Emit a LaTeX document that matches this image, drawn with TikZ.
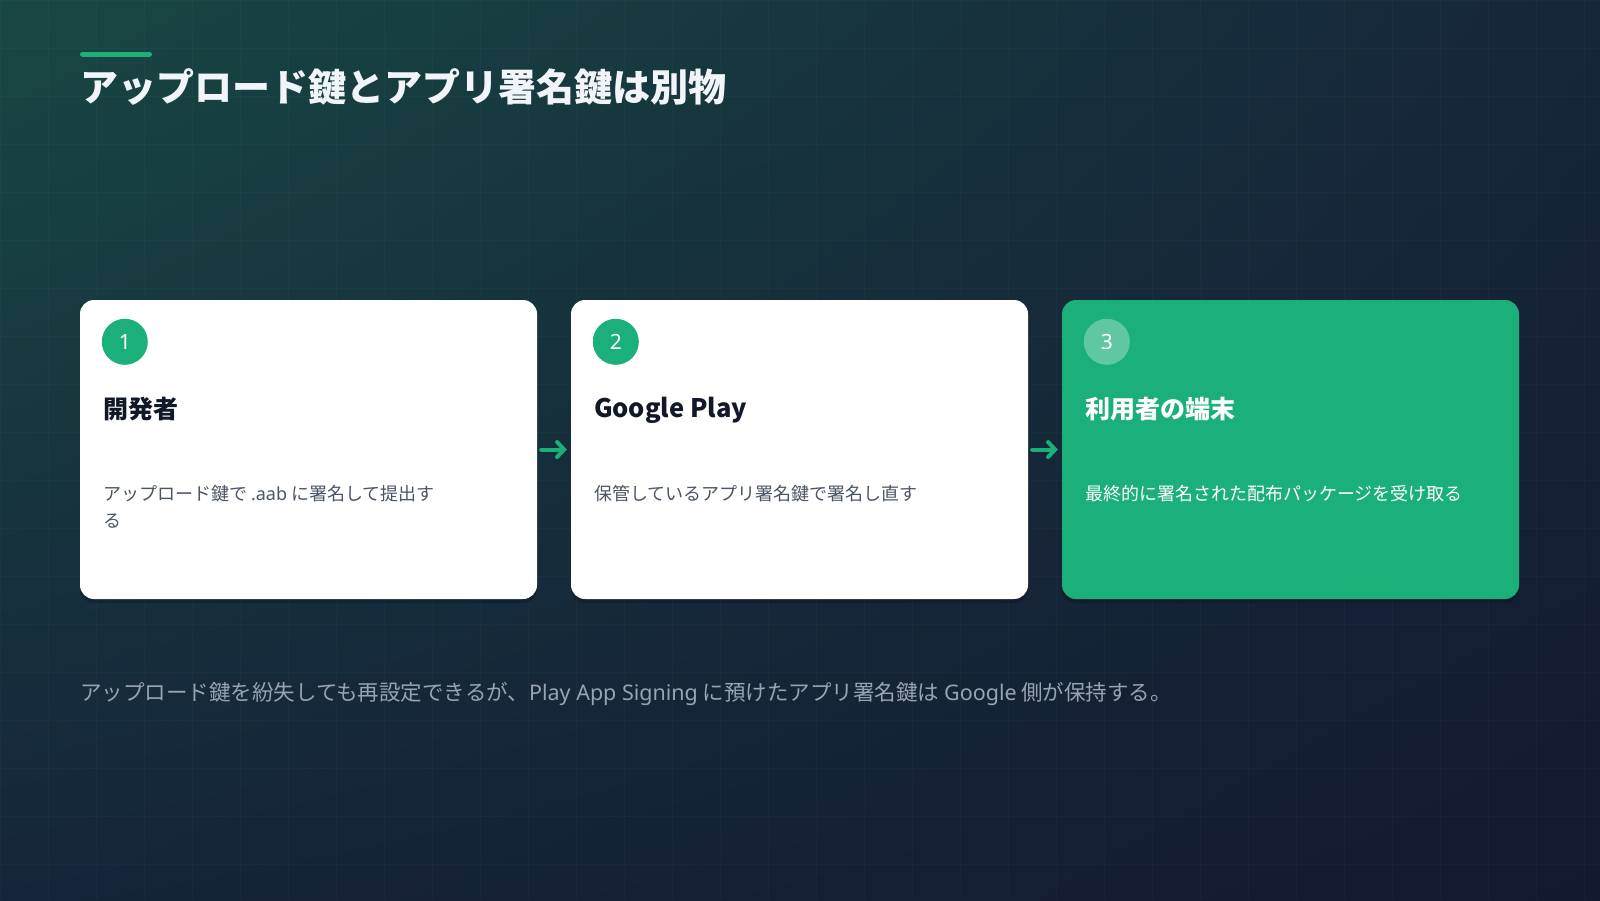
\documentclass[tikz,border=0pt]{standalone}
\usepackage{fontspec}
\setmainfont{Noto Sans CJK JP}
\newfontfamily\lat{Noto Sans}
\usetikzlibrary{arrows.meta,shadows,shadings}

\definecolor{bg_tl}{HTML}{184843}
\definecolor{bg_tr}{HTML}{16253A}
\definecolor{bg_bl}{HTML}{15243A}
\definecolor{bg_br}{HTML}{131A30}
\definecolor{accent}{HTML}{1BB07A}
\definecolor{ink}{HTML}{111827}
\definecolor{muted}{HTML}{4B5563}
\definecolor{note}{HTML}{98A3B3}
\definecolor{headline}{HTML}{F1F5F9}

\begin{document}
\begin{tikzpicture}[x=1pt, y=-1pt,
    card_style/.style={rectangle, rounded corners=14pt, minimum width=457pt, minimum height=299pt, inner sep=0pt,
        fill=white, drop shadow={shadow xshift=0pt, shadow yshift=-4pt, opacity=0.18, fill=black}},
    last_card_style/.style={card_style, fill=accent},
    badge_style/.style={circle, fill=accent, minimum size=46pt, inner sep=0pt, text=white, font=\lat\fontsize{21}{24}\selectfont},
    last_badge_style/.style={badge_style, fill=white, fill opacity=0.3, text opacity=1},
    title_style/.style={anchor=west, inner sep=0pt, text=ink, font=\fontsize{25}{30}\selectfont\bfseries},
    desc_style/.style={anchor=north west, inner sep=0pt, align=left, text=muted, font=\fontsize{18}{27}\selectfont},
    arrow_style/.style={draw=accent, line width=4pt, line cap=round, -{Straight Barb[length=7pt, width=15pt, line cap=round]},
        shorten <=4pt, shorten >=4pt},
    grid_style/.style={draw=white, opacity=0.025, line width=0.8pt}]

    \useasboundingbox (0,0) rectangle (1600,900);
    \shade[upper left=bg_tl, upper right=bg_tr, lower left=bg_bl, lower right=bg_br] (0,0) rectangle (1600,900);
    \foreach \gx in {0,48,...,1600} \draw[grid_style] (\gx,0) -- (\gx,900);
    \foreach \gy in {0,48,...,900} \draw[grid_style] (0,\gy) -- (1600,\gy);

    % heading
    \draw[accent, line width=5pt, line cap=round] (82.5,54) -- (149.5,54);
    \node[anchor=west, inner sep=0pt, text=headline, font=\fontsize{38}{44}\selectfont\bfseries] (heading) at (80,87)
        {アップロード鍵とアプリ署名鍵は別物};

    % cards
    \node[card_style] (c1) at (308.5,449.5) {};
    \node[card_style] (c2) at (799.5,449.5) {};
    \node[last_card_style] (c3) at (1290.5,449.5) {};

    \node[badge_style] (b1) at ([xshift=45pt, yshift=-42pt]c1.north west) {1};
    \node[badge_style] (b2) at ([xshift=45pt, yshift=-42pt]c2.north west) {2};
    \node[last_badge_style] (b3) at ([xshift=45pt, yshift=-42pt]c3.north west) {3};

    \node[title_style] (t1) at ([xshift=23pt, yshift=-109pt]c1.north west) {開発者};
    \node[title_style, font=\fontsize{25.5}{30}\selectfont\bfseries] (t2) at ([xshift=23pt, yshift=-111pt]c2.north west) {Google Play};
    \node[title_style, text=white] (t3) at ([xshift=23pt, yshift=-109pt]c3.north west) {利用者の端末};

    \node[desc_style] (d1) at ([xshift=23pt, yshift=-185pt]c1.north west) {アップロード鍵で {\lat .aab} に署名して提出す\\る};
    \node[desc_style] (d2) at ([xshift=23pt, yshift=-185pt]c2.north west) {保管しているアプリ署名鍵で署名し直す};
    \node[desc_style, text=white] (d3) at ([xshift=23pt, yshift=-185pt]c3.north west) {最終的に署名された配布パッケージを受け取る};

    \draw[arrow_style] (c1.east) -- (c2.west);
    \draw[arrow_style] (c2.east) -- (c3.west);

    % note
    \node[anchor=west, inner sep=0pt, text=note, font=\fontsize{21.5}{24}\selectfont] (note) at (80,694)
        {アップロード鍵を紛失しても再設定できるが、{\lat Play App Signing} に預けたアプリ署名鍵は {\lat Google} 側が保持する。};
\end{tikzpicture}
\end{document}
